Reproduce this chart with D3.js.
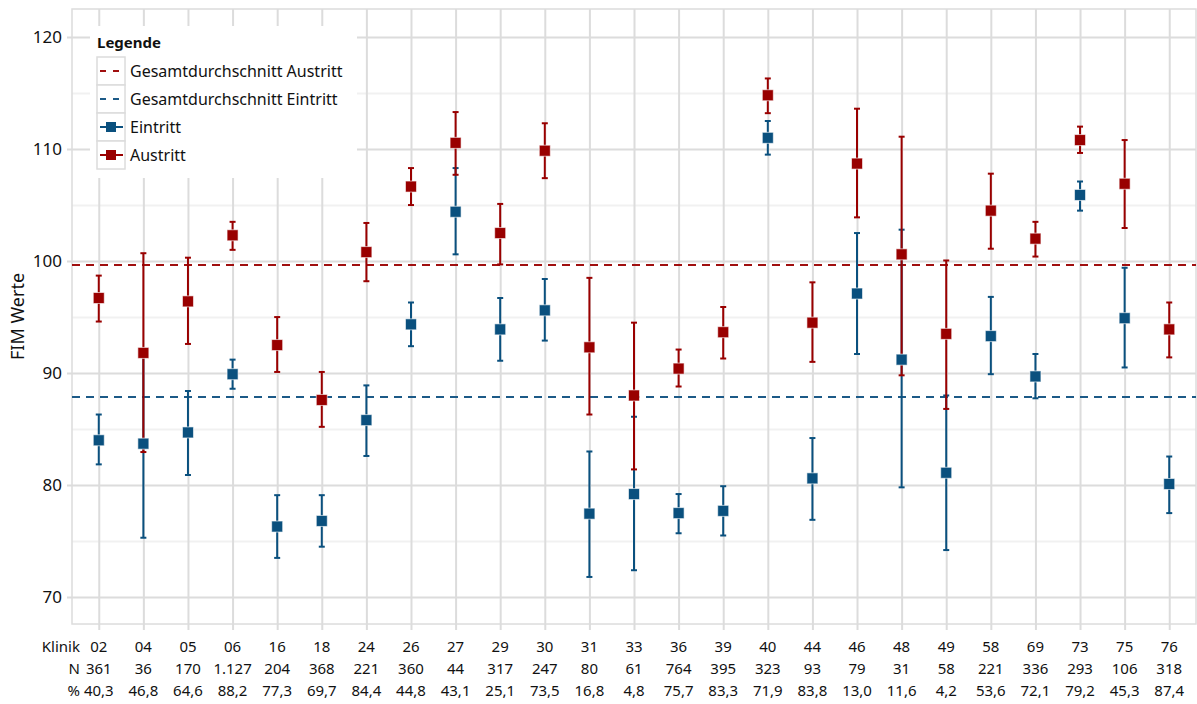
<!DOCTYPE html>
<html>
<head>
<meta charset="utf-8">
<script src="https://cdn.jsdelivr.net/npm/d3@7"></script>
<style>
  body { margin: 0; background: #fff; }
  text { font-family: "Noto Sans", "Open Sans", sans-serif; fill: #111; }
</style>
</head>
<body>
<script>
// Kliniken, Fallzahlen und Anteile (Tabelle unter der Grafik)
let kliniken = ['02', '04', '05', '06', '16', '18', '24', '26', '27', '29', '30', '31', '33',
  '36', '39', '40', '44', '46', '48', '49', '58', '69', '73', '75', '76'];
let nWerte = ['361', '36', '170', '1.127', '204', '368', '221', '360', '44', '317', '247', '80', '61',
  '764', '395', '323', '93', '79', '31', '58', '221', '336', '293', '106', '318'];
let prozent = ['40,3', '46,8', '64,6', '88,2', '77,3', '69,7', '84,4', '44,8', '43,1', '25,1', '73,5', '16,8', '4,8',
  '75,7', '83,3', '71,9', '83,8', '13,0', '11,6', '4,2', '53,6', '72,1', '79,2', '45,3', '87,4'];

// Eintritt: Mittelwert, untere und obere Grenze
let einMittel = [84.0, 83.7, 84.7, 89.9, 76.3, 76.8, 85.8, 94.35, 104.4, 93.9, 95.6, 77.45, 79.2,
  77.5, 77.7, 111.0, 80.6, 97.1, 91.2, 81.1, 93.3, 89.7, 105.9, 94.9, 80.1];
let einUnten = [81.85, 75.3, 80.9, 88.6, 73.5, 74.5, 82.6, 92.4, 100.6, 91.1, 92.9, 71.8, 72.4,
  75.7, 75.5, 109.5, 76.9, 91.7, 79.8, 74.2, 89.9, 87.75, 104.5, 90.5, 77.5];
let einOben = [86.3, 92.0, 88.4, 91.2, 79.1, 79.1, 88.9, 96.3, 108.3, 96.7, 98.4, 83.0, 86.1,
  79.2, 79.9, 112.5, 84.2, 102.5, 102.8, 88.0, 96.8, 91.7, 107.1, 99.4, 82.55];

// Austritt: Mittelwert, untere und obere Grenze
let ausMittel = [96.7, 91.8, 96.4, 102.3, 92.5, 87.6, 100.8, 106.65, 110.55, 102.5, 109.85, 92.3, 88.0,
  90.4, 93.65, 114.8, 94.5, 108.7, 100.6, 93.5, 104.5, 102.0, 110.8, 106.9, 93.9];
let ausUnten = [94.6, 82.95, 92.6, 101.0, 90.1, 85.2, 98.2, 105.0, 107.7, 99.7, 107.4, 86.3, 81.4,
  88.8, 91.3, 113.2, 91.0, 103.9, 89.8, 86.8, 101.1, 100.4, 109.65, 102.95, 91.4];
let ausOben = [98.7, 100.7, 100.3, 103.5, 95.0, 90.1, 103.4, 108.3, 113.3, 105.1, 112.3, 98.5, 94.5,
  92.1, 95.9, 116.3, 98.1, 113.6, 111.1, 100.05, 107.8, 103.5, 112.0, 110.8, 96.3];

// Gesamtdurchschnitte
let schnittAustritt = 99.65;
let schnittEintritt = 87.87;

let yTicks = [70, 80, 90, 100, 110, 120];
let yMinor = [75, 85, 95, 105, 115];

let rot = '#990000';
let blau = '#0a507e';
let grau = '#dcdcdc';

let dim = { width: 1197, height: 704 };
let plot = { left: 72, right: 1196, top: 9, bottom: 624 };

let svg = d3.select('body').append('svg')
  .attr('width', dim.width)
  .attr('height', dim.height);

let x = d3.scalePoint(kliniken, [plot.left, plot.right]).padding(0.6);
let y = d3.scaleLinear([67.6, 122.5], [plot.bottom, plot.top]);

// Nebengitter
let minorGrid = d3.axisLeft(y).tickValues(yMinor).tickSize(plot.right - plot.left).tickFormat('');
svg.append('g').attr('transform', `translate(${plot.right},0)`).call(minorGrid)
  .call(g => g.select('.domain').remove())
  .selectAll('line').attr('stroke', '#f1f1f1').attr('stroke-width', 2);

// vertikale Gitterlinien
let xGrid = d3.axisBottom(x).tickSize(630 - plot.top).tickFormat('');
svg.append('g').attr('transform', `translate(0,${plot.top})`).call(xGrid)
  .call(g => g.select('.domain').remove())
  .selectAll('line').attr('stroke', grau).attr('stroke-width', 2);

// horizontale Hauptlinien + Beschriftung
let yAxis = d3.axisLeft(y).tickValues(yTicks).tickSize(plot.right - 67).tickPadding(5);
svg.append('g').attr('transform', `translate(${plot.right},0)`).call(yAxis)
  .call(g => g.select('.domain').remove())
  .call(g => g.selectAll('line').attr('stroke', grau).attr('stroke-width', 2))
  .call(g => g.selectAll('text')
    .style('font-family', '"Noto Sans", sans-serif')
    .style('font-size', '17px').attr('fill', '#111'));

// Rahmen
svg.append('rect')
  .attr('x', plot.left).attr('y', plot.top)
  .attr('width', plot.right - plot.left).attr('height', plot.bottom - plot.top)
  .attr('fill', 'none').attr('stroke', grau).attr('stroke-width', 1.5);

// Achsentitel
svg.append('text')
  .attr('transform', `translate(24,${(plot.top + plot.bottom) / 2}) rotate(-90)`)
  .attr('text-anchor', 'middle')
  .style('font-size', '18px')
  .text('FIM Werte');

// Gesamtdurchschnitte
svg.append('line')
  .attr('x1', plot.left).attr('x2', plot.right)
  .attr('y1', y(schnittAustritt)).attr('y2', y(schnittAustritt))
  .attr('stroke', '#a00f0f').attr('stroke-width', 2).attr('stroke-dasharray', '8 6');
svg.append('line')
  .attr('x1', plot.left).attr('x2', plot.right)
  .attr('y1', y(schnittEintritt)).attr('y2', y(schnittEintritt))
  .attr('stroke', '#1c5a87').attr('stroke-width', 2).attr('stroke-dasharray', '8 6');

// Datenreihen
let eintritt = kliniken.map((k, i) => ({ k, m: einMittel[i], lo: einUnten[i], hi: einOben[i] }));
let austritt = kliniken.map((k, i) => ({ k, m: ausMittel[i], lo: ausUnten[i], hi: ausOben[i] }));

function fehlerbalken(data, color) {
  let g = svg.append('g').attr('stroke', color).attr('stroke-width', 2);
  g.selectAll('line.v').data(data).join('line').attr('class', 'v')
    .attr('x1', d => x(d.k)).attr('x2', d => x(d.k))
    .attr('y1', d => y(d.lo)).attr('y2', d => y(d.hi));
  g.selectAll('line.top').data(data).join('line').attr('class', 'top')
    .attr('x1', d => x(d.k) - 3).attr('x2', d => x(d.k) + 3)
    .attr('y1', d => y(d.hi)).attr('y2', d => y(d.hi));
  g.selectAll('line.bot').data(data).join('line').attr('class', 'bot')
    .attr('x1', d => x(d.k) - 3).attr('x2', d => x(d.k) + 3)
    .attr('y1', d => y(d.lo)).attr('y2', d => y(d.lo));
}

function marker(data, color) {
  svg.append('g').selectAll('rect').data(data).join('rect')
    .attr('x', d => x(d.k) - 5.5).attr('y', d => y(d.m) - 5.5)
    .attr('width', 11).attr('height', 11)
    .attr('fill', color)
    .attr('stroke', 'rgba(255,255,255,0.6)').attr('stroke-width', 1);
}

fehlerbalken(eintritt, blau);
fehlerbalken(austritt, rot);
marker(eintritt, blau);
marker(austritt, rot);

// Legende
let legende = svg.append('g');
legende.append('rect')
  .attr('x', 90).attr('y', 26).attr('width', 267).attr('height', 152)
  .attr('fill', '#fff');
legende.append('text')
  .attr('x', 97).attr('y', 48)
  .style('font-size', '15px').style('font-weight', 'bold')
  .text('Legende');

let legendItems = [
  { label: 'Gesamtdurchschnitt Austritt', color: '#a00f0f', typ: 'dash' },
  { label: 'Gesamtdurchschnitt Eintritt', color: '#1c5a87', typ: 'dash' },
  { label: 'Eintritt', color: blau, typ: 'marker' },
  { label: 'Austritt', color: rot, typ: 'marker' }
];
legendItems.forEach((it, i) => {
  let top = 57 + i * 28;
  let cy = top + 14;
  legende.append('rect')
    .attr('x', 97).attr('y', top).attr('width', 28).attr('height', 28)
    .attr('fill', '#fff').attr('stroke', grau).attr('stroke-width', 1.5);
  if (it.typ === 'dash') {
    legende.append('line')
      .attr('x1', 100).attr('x2', 123).attr('y1', cy).attr('y2', cy)
      .attr('stroke', it.color).attr('stroke-width', 2).attr('stroke-dasharray', '6 7');
  } else {
    legende.append('line')
      .attr('x1', 100).attr('x2', 123).attr('y1', cy).attr('y2', cy)
      .attr('stroke', it.color).attr('stroke-width', 2);
    legende.append('rect')
      .attr('x', 106).attr('y', cy - 5).attr('width', 10).attr('height', 10)
      .attr('fill', it.color);
  }
  legende.append('text')
    .attr('x', 130).attr('y', cy).attr('dy', '0.35em')
    .style('font-size', '16px')
    .text(it.label);
});

// Tabelle unter der Grafik
let zeilen = [
  { titel: 'Klinik', werte: kliniken, yy: 647 },
  { titel: 'N', werte: nWerte, yy: 669 },
  { titel: '%', werte: prozent, yy: 691 }
];
zeilen.forEach(z => {
  svg.append('text')
    .attr('x', 80).attr('y', z.yy).attr('dy', '0.35em')
    .attr('text-anchor', 'end')
    .style('font-size', '15px')
    .text(z.titel);
  svg.append('g').selectAll('text').data(z.werte).join('text')
    .attr('x', (d, i) => x(kliniken[i]))
    .attr('y', z.yy).attr('dy', '0.35em')
    .attr('text-anchor', 'middle')
    .style('font-size', '15px')
    .text(d => d);
});
</script>
</body>
</html>
